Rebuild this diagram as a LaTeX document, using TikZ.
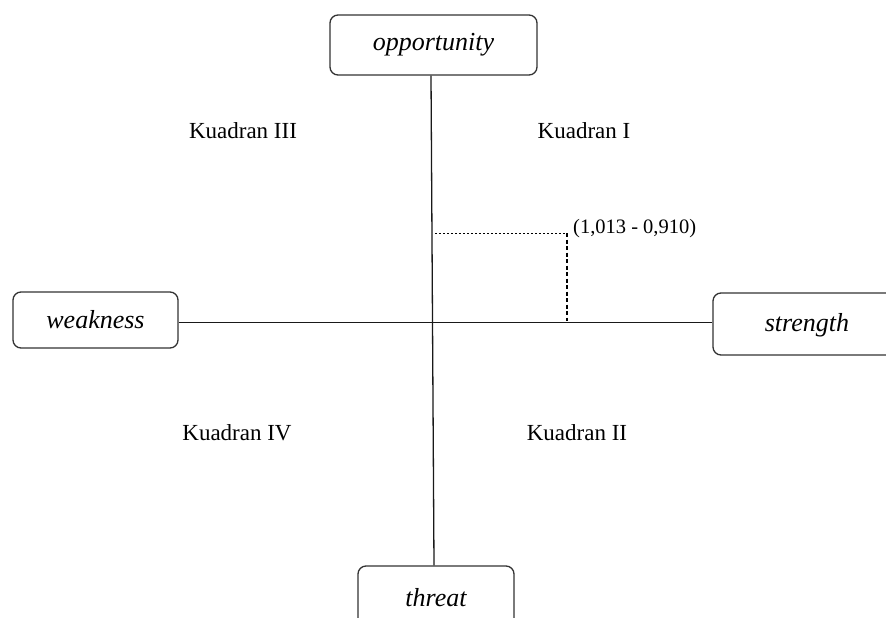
\documentclass[tikz,border=0pt]{standalone}
\usepackage{fontspec}
\setmainfont{Liberation Serif}
\begin{document}
\begin{tikzpicture}[x=1pt,y=-1pt,
  box/.style={draw=black!80, line width=1.3pt, rounded corners=8pt, fill=white, inner sep=0pt,
    font=\fontsize{26}{30}\selectfont\itshape},
  quad/.style={font=\fontsize{23}{27}\selectfont, inner sep=0pt},
  axis/.style={line width=1.3pt, black!90},
  guideh/.style={line width=0.9pt, dash pattern=on 2pt off 2pt},
  guidev/.style={line width=1.1pt, dash pattern=on 4pt off 2.5pt}]
\useasboundingbox (0,0) rectangle (886,618);
\clip (0,0) rectangle (886,618);
% boxes
\node[box, minimum width=207pt, minimum height=60pt] (opp) at (433.5,45) {opportunity};
\node[box, minimum width=165pt, minimum height=56pt] (weak) at (95.5,320) {weakness};
\node[box, minimum width=190pt, minimum height=62pt] (str) at (808,324) {};
\node[font=\fontsize{26}{30}\selectfont\itshape, inner sep=0pt] (strt) at (807,325) {strength};
\node[box, minimum width=156pt, minimum height=70pt] (thr) at (436,601) {};
\node[font=\fontsize{26}{30}\selectfont\itshape, inner sep=0pt] (thrt) at (436,598) {threat};
% axes
\draw[axis] ([xshift=-2.5pt]opp.south) -- ([xshift=-2pt]thr.north);
\draw[axis] ([yshift=-2.5pt]weak.east) -- ([yshift=1.5pt]str.west);
% quadrant labels
\node[quad] (q3) at (243,131) {Kuadran III};
\node[quad] (q1) at (584,131) {Kuadran I};
\node[quad] (q4) at (237,433) {Kuadran IV};
\node[quad] (q2) at (577,433) {Kuadran II};
% point
\coordinate (p) at (567,233);
\coordinate (px) at (435,233);
\coordinate (py) at (567,321);
\draw[guideh] (px) -- (p);
\draw[guidev] (p) -- (py);
\node[font=\fontsize{20.5}{24}\selectfont, inner sep=0pt, anchor=west] (lbl) at (573,229) {(1,013 - 0,910)};
\end{tikzpicture}
\end{document}
